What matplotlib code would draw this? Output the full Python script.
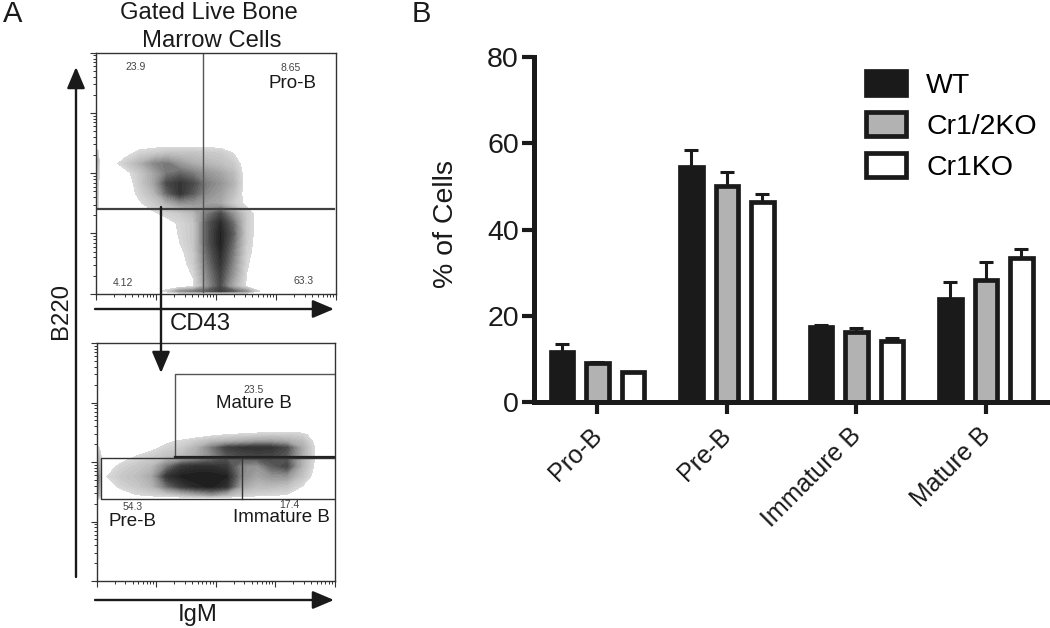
import numpy as np
import matplotlib
matplotlib.use('Agg')
import matplotlib.pyplot as plt
from matplotlib.colors import LinearSegmentedColormap
from matplotlib.transforms import ScaledTranslation

plt.rcParams['font.family'] = ['Liberation Sans', 'DejaVu Sans']

# panel B values
categories = ['Pro-B', 'Pre-B', 'Immature B', 'Mature B']
wt_vals = [11.5, 54.5, 17.3, 24.0]
dko_vals = [9.1, 50.2, 16.3, 28.4]
ko_vals = [6.9, 46.3, 14.2, 33.4]
wt_err = [1.9, 3.9, 0.6, 3.9]
dko_err = [0.2, 3.2, 0.9, 4.1]
ko_err = [0.0, 2.0, 0.6, 2.1]

# panel A top density, x and y in decades
top_x = [.29, .51, .73, .96, 1.18, 1.40, 1.62, 1.84, 2.07, 2.29, 2.51, 2.73]
top_y = [2.5, 2.33, 2.16, 2.0, 1.83, 1.67, 1.5, 1.33, 1.17, 1.0, .84, .67, .5, .34, .17, .12, .044, 0]
top_z = [
    [0, 0, 0, 0, 0, 0, 0, 0, 0, 0, 0, 0],
    [0, .05, .15, .2, .25, .25, .25, .22, .2, .1, 0, 0],
    [.05, .2, .35, .55, .62, .48, .38, .33, .28, .2, 0, 0],
    [0, .05, .22, .42, .62, .68, .6, .5, .42, .3, 0, 0],
    [0, 0, .2, .42, .78, .88, .78, .6, .5, .35, 0, 0],
    [0, 0, .15, .32, .68, .88, .72, .55, .45, .28, 0, 0],
    [0, 0, .08, .2, .35, .5, .5, .45, .4, .2, .05, 0],
    [0, 0, 0, .07, .15, .2, .3, .6, .78, .5, .2, 0],
    [0, 0, 0, 0, .03, .13, .22, .7, .92, .65, .2, 0],
    [0, 0, 0, 0, 0, .12, .22, .7, .97, .7, .2, 0],
    [0, 0, 0, 0, 0, .1, .22, .7, .97, .65, .18, 0],
    [0, 0, 0, 0, 0, .05, .2, .65, .92, .6, .15, 0],
    [0, 0, 0, 0, 0, .02, .18, .6, .88, .55, .12, 0],
    [0, 0, 0, 0, 0, 0, .12, .55, .82, .5, .1, 0],
    [0, 0, 0, 0, 0, 0, .08, .5, .78, .4, .08, 0],
    [0, 0, 0, 0, 0, 0, .08, .5, .78, .4, .08, 0],
    [0, 0, 0, 0, .15, .5, .6, .7, .85, .7, .5, .08],
    [0, 0, 0, 0, 0, 0, 0, 0, 0, 0, 0, 0],
]
top_edge_x = [0.0, .03, .07]
top_edge_y = [2.45, 2.2, 1.9, 1.45, 1.3]
top_edge_z = [[.02, .05, 0], [.45, .3, 0], [.25, .2, 0], [.15, .12, 0], [0, 0, 0]]

# panel A bottom density
bot_x = [.17, .42, .67, .92, 1.18, 1.43, 1.68, 1.93, 2.18, 2.44, 2.69, 2.94, 3.19, 3.45, 3.70]
bot_y = [2.54, 2.46, 2.35, 2.24, 2.10, 1.93, 1.76, 1.59, 1.45, 1.39]
bot_z = [
    [0, 0, 0, 0, 0, 0, 0, 0, 0, 0, 0, 0, 0, 0, 0],
    [0, 0, 0, 0, 0, 0, 0, .05, .1, .12, .15, .18, .18, .15, 0],
    [0, 0, 0, 0, .07, .12, .2, .3, .35, .4, .45, .45, .4, .3, .02],
    [0, 0, 0, .05, .15, .2, .35, .6, .82, .88, .9, .88, .78, .4, .05],
    [0, 0, .1, .18, .25, .3, .4, .55, .72, .78, .8, .8, .72, .38, .05],
    [0, .15, .22, .3, .6, .85, .9, .9, .85, .55, .5, .7, .8, .35, .03],
    [.1, .22, .28, .4, .88, .98, 1.0, 1.0, .97, .55, .42, .5, .5, .25, 0],
    [0, .15, .22, .33, .65, .85, .95, .98, .9, .42, .3, .3, .25, .1, 0],
    [0, 0, .1, .15, .2, .3, .4, .5, .35, .2, .15, .12, .1, 0, 0],
    [0, 0, 0, 0, 0, 0, 0, 0, 0, 0, 0, 0, 0, 0, 0],
]
bot_edge_x = [0.0, .04, .1]
bot_edge_y = [2.3, 2.1, 1.75, 1.45, 1.35]
bot_edge_z = [[.05, .05, 0], [.35, .25, 0], [.85, .5, 0], [.6, .3, 0], [0, 0, 0]]

# gate percentages
top_gate_pcts = ['23.9', '8.65', '4.12', '63.3']
bot_gate_pcts = ['23.5', '54.3', '17.4']

W, H = 1050, 628
density_cmap = LinearSegmentedColormap.from_list(
    'flow', [(0, '#dadada'), (.25, '#b8b8b8'), (.5, '#8c8c8c'), (.75, '#4c4c4c'), (1, '#1c1c1c')])
density_levels = np.linspace(.1, 1.0, 28)
dark = '#1a1a1a'


def px_axes(left, top, right, bottom):
    return fig.add_axes([left / W, 1 - bottom / H, (right - left) / W, (bottom - top) / H])


def flow_axes(left, top, right, bottom):
    ax = px_axes(left, top, right, bottom)
    ax.set_xlim(0, 4)
    ax.set_ylim(0, 4)
    minor = [d + np.log10(k) for d in range(4) for k in range(2, 10)]
    ax.set_xticks(range(5))
    ax.set_yticks(range(5))
    ax.set_xticks(minor, minor=True)
    ax.set_yticks(minor, minor=True)
    ax.tick_params(labelbottom=False, labelleft=False, length=4.5, width=.8, color='#333333')
    ax.tick_params(which='minor', length=2.5, width=.7, color='#333333')
    for s in ax.spines.values():
        s.set_linewidth(1)
        s.set_color('#333333')
    return ax


fig = plt.figure(figsize=(W / 100, H / 100), dpi=100)

# top flow plot
ax1 = flow_axes(96, 52.7, 336, 293.7)
ax1.contourf(top_x, top_y, top_z, levels=density_levels, cmap=density_cmap, vmin=.1, vmax=1, extend='max')
ax1.contourf(top_edge_x, top_edge_y, top_edge_z, levels=density_levels, cmap=density_cmap, vmin=.1, vmax=1, extend='max')
ax1.plot([1.78, 1.78], [0.03, 3.98], color='#555555', lw=1)
ax1.plot([.02, 3.97], [1.405, 1.405], color='#404040', lw=1.6)

# bottom flow plot
ax2 = flow_axes(96.7, 343, 334.7, 581)
ax2.contourf(bot_x, bot_y, bot_z, levels=density_levels, cmap=density_cmap, vmin=.1, vmax=1, extend='max')
ax2.contourf(bot_edge_x, bot_edge_y, bot_edge_z, levels=density_levels, cmap=density_cmap, vmin=.1, vmax=1, extend='max')
ax2.plot([3.98, 1.32, 1.32], [3.48, 3.48, 2.084], color='#555555', lw=1)
ax2.plot([1.32, 3.98], [2.084, 2.084], color='#222222', lw=1.6)
ax2.plot([3.98, .067, .067, 3.98], [2.067, 2.067, 1.384, 1.384], color='#333333', lw=1)
ax2.plot([2.45, 2.45], [2.067, 1.384], color='#333333', lw=1)

# panel B
ax = px_axes(534, 57, 1049, 402)
x = np.arange(len(categories))
step = .274
bar_w = .174
series = [(wt_vals, wt_err, dark, 'WT'), (dko_vals, dko_err, '#b2b2b2', 'Cr1/2KO'), (ko_vals, ko_err, 'white', 'Cr1KO')]
for i, (vals, errs, col, name) in enumerate(series):
    pos = x + (i - 1) * step
    ax.errorbar(pos, vals, yerr=[np.zeros(len(errs)), errs], fmt='none', ecolor=dark,
                elinewidth=2.2, capsize=5, capthick=2.2, zorder=1)
    ax.bar(pos, vals, width=bar_w, color=col, edgecolor=dark, linewidth=3.4, label=name, zorder=2)
ax.set_xlim(-.49, 3.487)
ax.set_ylim(0, 80)
ax.set_yticks([0, 20, 40, 60, 80])
ax.set_xticks(x)
ax.set_xticklabels(categories, rotation=45, ha='right', rotation_mode='anchor')
ax.tick_params(axis='both', length=8.8, width=3, color=dark, labelcolor=dark)
ax.tick_params(axis='x', pad=8, labelsize=18)
ax.tick_params(axis='y', pad=2, labelsize=20.5)
# nudge the slanted labels left, like the reference
nudge = ScaledTranslation(-8 / 100, 2 / 100, fig.dpi_scale_trans)
for lab in ax.get_xticklabels():
    lab.set_transform(lab.get_transform() + nudge)
ax.spines['top'].set_visible(False)
ax.spines['right'].set_visible(False)
ax.spines['left'].set_linewidth(3.6)
ax.spines['bottom'].set_linewidth(3.6)
ax.spines['left'].set_color(dark)
ax.spines['bottom'].set_color(dark)
ax.set_ylabel('% of Cells', fontsize=20.5, color=dark)
ax.yaxis.set_label_coords(-.146, .515)
ax.legend(loc='upper left', bbox_to_anchor=(.645, .96), frameon=False, fontsize=20.5,
          handlelength=1.41, handleheight=.95, labelspacing=.45, handletextpad=.7, borderpad=0, borderaxespad=0)

# overlay in pixels for arrows and labels
ov = fig.add_axes([0, 0, 1, 1], zorder=5)
ov.set_xlim(0, W)
ov.set_ylim(H, 0)
ov.axis('off')
ov.patch.set_alpha(0)

for (x0, y0, x1, y1) in [(76, 577, 76, 67), (95, 309, 334, 309), (95, 600, 334, 600), (161, 207, 161, 373)]:
    ov.annotate('', xy=(x1, y1), xytext=(x0, y0),
                arrowprops=dict(arrowstyle='-|>,head_length=13,head_width=5.5', mutation_scale=1, lw=1.7,
                                color=dark, shrinkA=0, shrinkB=0))

ov.text(13, 14, 'A', fontsize=21, ha='center', va='center', color=dark)
ov.text(421, 14, 'B', fontsize=21, ha='center', va='center', color=dark)
ov.text(209, 13, 'Gated Live Bone', fontsize=17.2, ha='center', va='center', color=dark)
ov.text(212, 41, 'Marrow Cells', fontsize=17.2, ha='center', va='center', color=dark)
ov.text(200, 324, 'CD43', fontsize=17.2, ha='center', va='center', color=dark)
ov.text(198, 615, 'IgM', fontsize=17.2, ha='center', va='center', color=dark)
ov.text(61, 311, 'B220', fontsize=17.2, ha='center', va='center', rotation=90, color=dark)
ov.text(292, 83, 'Pro-B', fontsize=13.5, ha='center', va='center', color=dark)
ov.text(254, 403, 'Mature B', fontsize=13.5, ha='center', va='center', color=dark)
ov.text(133, 521, 'Pre-B', fontsize=13.5, ha='center', va='center', color=dark)
ov.text(281, 518, 'Immature B', fontsize=13.5, ha='center', va='center', color=dark)

for s, px, py in zip(top_gate_pcts, [136, 291, 123, 304], [67, 68, 283, 281]):
    ov.text(px, py, s, fontsize=7.5, ha='center', va='center', color='#444444')
for s, px, py in zip(bot_gate_pcts, [254, 133, 289], [390, 507, 505]):
    ov.text(px, py, s, fontsize=7.5, ha='center', va='center', color='#444444')

plt.savefig('out.png', dpi=100)
